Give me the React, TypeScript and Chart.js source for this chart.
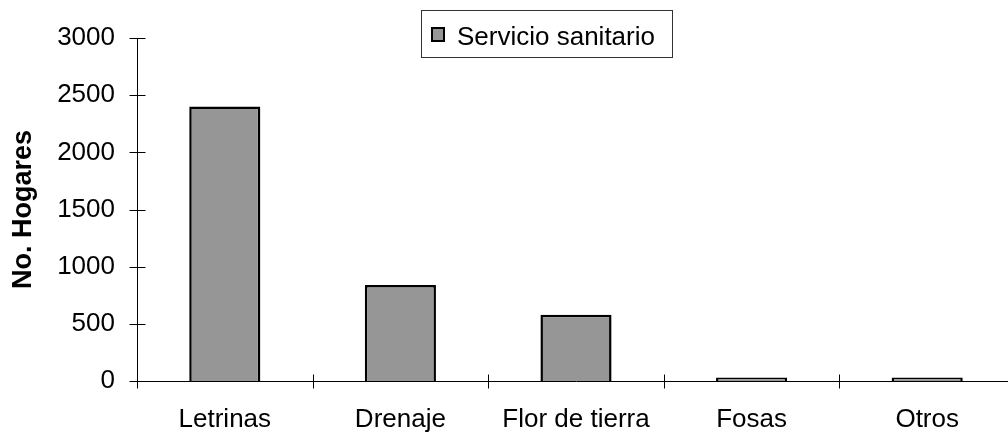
import React, { useEffect, useRef } from "react";
import { Chart, registerables } from "chart.js";

Chart.register(...registerables);

const categories: string[] = ["Letrinas", "Drenaje", "Flor de tierra", "Fosas", "Otros"];
const seriesLabel = "Servicio sanitario";
const values: number[] = [2400, 840, 580, 30, 30];
const yTicks: number[] = [0, 500, 1000, 1500, 2000, 2500, 3000];
const yTitle = "No. Hogares";

const FONT = "'Liberation Sans', Arial, sans-serif";
const BAR_FILL = "#969696";

const decorPlugin = {
  id: "decor",
  afterDraw(chart: any) {
    const ctx = chart.ctx as CanvasRenderingContext2D;
    const x = chart.scales.x;
    const y = chart.scales.y;
    const area = chart.chartArea;
    ctx.save();
    ctx.strokeStyle = "#000";
    ctx.lineWidth = 1;
    const ax = Math.round(area.left) + 0.5;
    y.ticks.forEach((t: any) => {
      const py = Math.round(y.getPixelForValue(t.value)) + 0.5;
      ctx.beginPath();
      ctx.moveTo(ax - 8, py);
      ctx.lineTo(ax + 8, py);
      ctx.stroke();
    });
    const ay = Math.round(area.bottom) + 0.5;
    for (let i = 0; i <= categories.length; i++) {
      const px = Math.round(x.getPixelForValue(i - 0.5)) + 0.5;
      ctx.beginPath();
      ctx.moveTo(px, ay - 7);
      ctx.lineTo(px, ay + 7);
      ctx.stroke();
    }
    ctx.strokeStyle = "#333";
    ctx.strokeRect(421.5, 10.5, 251, 47);
    ctx.fillStyle = BAR_FILL;
    ctx.fillRect(431, 27, 14, 15);
    ctx.strokeStyle = "#000";
    ctx.lineWidth = 2;
    ctx.strokeRect(432, 28, 12, 13);
    ctx.fillStyle = "#000";
    ctx.font = `26px ${FONT}`;
    ctx.textAlign = "left";
    ctx.textBaseline = "alphabetic";
    ctx.fillText(seriesLabel, 457, 45);
    ctx.restore();
  },
};

export default function App() {
  const ref = useRef<HTMLCanvasElement | null>(null);
  useEffect(() => {
    if (!ref.current) return;
    const chart = new Chart(ref.current, {
      type: "bar",
      data: {
        labels: categories,
        datasets: [
          {
            label: seriesLabel,
            data: values,
            backgroundColor: BAR_FILL,
            borderColor: "#000",
            borderWidth: 2.5,
            categoryPercentage: 1,
            barPercentage: 0.405,
          },
        ],
      },
      options: {
        responsive: false,
        animation: false,
        devicePixelRatio: 1,
        layout: { padding: { left: 0, right: 1, top: 38, bottom: 0 } },
        plugins: {
          legend: { display: false },
          tooltip: { enabled: false },
        },
        scales: {
          x: {
            grid: { display: false, drawTicks: false },
            border: { display: true, color: "#000", width: 1 },
            ticks: {
              color: "#000",
              font: { family: FONT, size: 26 },
              padding: 23,
              maxRotation: 0,
              autoSkip: false,
            },
            afterFit: (s: any) => {
              s.height = 51;
            },
          },
          y: {
            min: 0,
            max: 3000,
            afterBuildTicks: (s: any) => {
              s.ticks = yTicks.map((v) => ({ value: v }));
            },
            grid: { display: false, drawTicks: false },
            border: { display: true, color: "#000", width: 1 },
            ticks: {
              color: "#000",
              font: { family: FONT, size: 26 },
              padding: 22,
              callback: (v: any) => String(v),
            },
            title: {
              display: true,
              text: yTitle,
              color: "#000",
              font: { family: FONT, size: 27, weight: "bold" },
              padding: { top: 7, bottom: 0 },
            },
            afterFit: (s: any) => {
              s.width = 137;
            },
          },
        },
      },
      plugins: [decorPlugin],
    });
    return () => chart.destroy();
  }, []);
  return (
    <div
      style={{
        position: "fixed",
        left: 0,
        top: 0,
        width: 1008,
        height: 432,
        overflow: "hidden",
        background: "#fff",
      }}
    >
      <canvas ref={ref} width={1016} height={432} style={{ display: "block", width: 1016, height: 432 }} />
    </div>
  );
}
